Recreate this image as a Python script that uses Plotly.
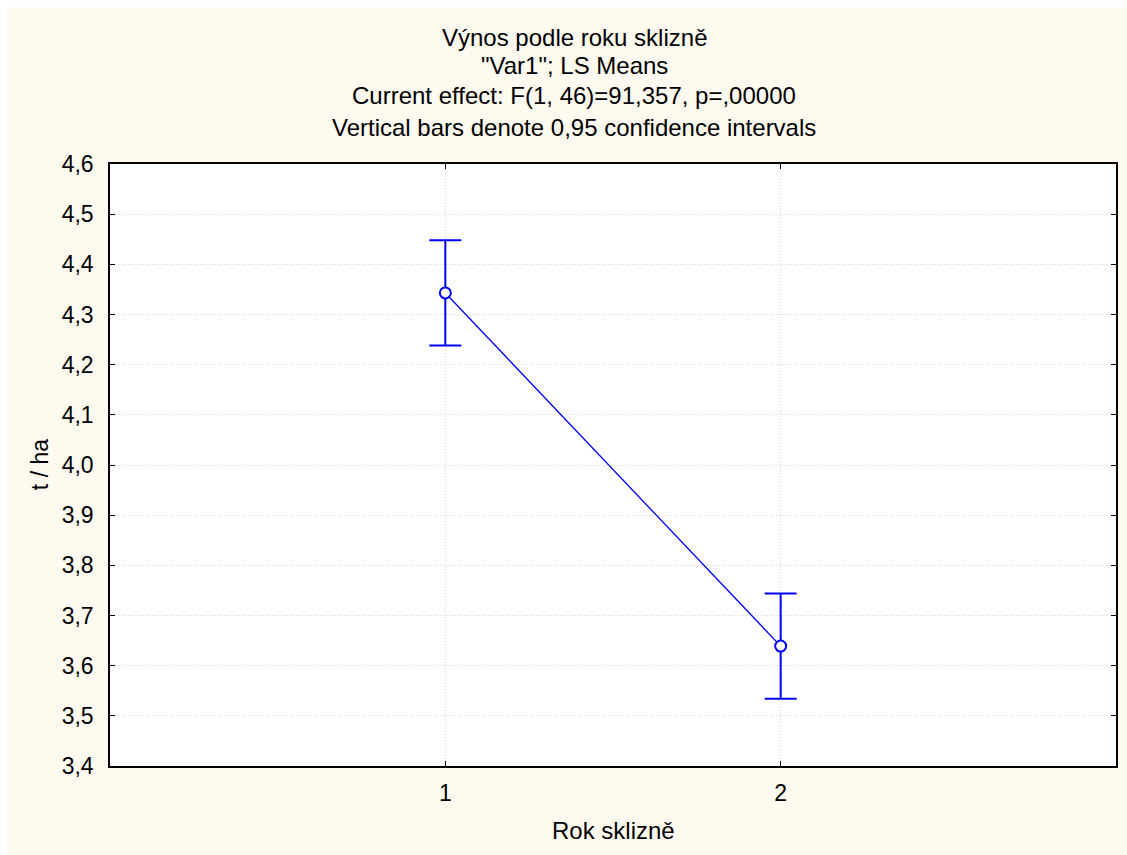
import plotly.graph_objects as go

# Harvest-year LS means with 0.95 confidence half-widths
years = ["1", "2"]
means = [4.343, 3.639]
ci_half = [0.105, 0.105]

title_lines = [
    "Výnos podle roku sklizně",
    "\"Var1\"; LS Means",
    "Current effect: F(1, 46)=91,357, p=,00000",
    "Vertical bars denote 0,95 confidence intervals",
]
x_title = "Rok sklizně"
y_title = "t / ha"

W, H = 1127, 855
L, R, T, B = 110, 9, 164, 89
pw, ph = W - L - R, H - T - B

def px_x(x):
    return (x - L) / pw

def px_y(y):
    return (H - B - y) / ph

FONT = "Liberation Sans, Arial, sans-serif"
BLUE = "#0000FF"
CREAM = "#FFFAF0"
GRID = "#d8d8d8"

fig = go.Figure()
fig.add_trace(go.Scatter(
    x=years, y=means,
    mode="lines+markers",
    line=dict(color=BLUE, width=1.3),
    marker=dict(symbol="circle", size=11, color="white",
                line=dict(color=BLUE, width=2)),
    error_y=dict(type="data", array=ci_half, symmetric=True,
                 color=BLUE, thickness=2, width=16),
    showlegend=False,
))

annotations = []
title_y = [37, 65, 96, 127]
for text, yp in zip(title_lines, title_y):
    annotations.append(dict(
        text=text, x=px_x(575), y=px_y(yp), xref="paper", yref="paper",
        xanchor="center", yanchor="middle", showarrow=False,
        font=dict(family=FONT, size=24, color="black"),
    ))
annotations.append(dict(
    text=x_title, x=0.5, y=px_y(830), xref="paper", yref="paper",
    xanchor="center", yanchor="middle", showarrow=False,
    font=dict(family=FONT, size=24, color="black"),
))
annotations.append(dict(
    text=y_title, x=px_x(40), y=0.5, xref="paper", yref="paper",
    xanchor="center", yanchor="middle", showarrow=False, textangle=-90,
    font=dict(family=FONT, size=23, color="black"),
))

# thin white strip along the top and left edges of the page
shapes = [
    dict(type="rect", xref="paper", yref="paper", layer="above",
         x0=px_x(0), x1=px_x(W), y0=px_y(7), y1=px_y(0),
         fillcolor="white", line=dict(width=0)),
    dict(type="rect", xref="paper", yref="paper", layer="above",
         x0=px_x(0), x1=px_x(7), y0=px_y(H), y1=px_y(0),
         fillcolor="white", line=dict(width=0)),
]

axis_common = dict(
    showline=True, linecolor="black", linewidth=1.5, mirror="ticks",
    ticks="inside", ticklen=5, tickcolor="black", tickwidth=1,
    showgrid=True, gridcolor=GRID, griddash="1px,2px", gridwidth=1,
    zeroline=False,
    tickfont=dict(family=FONT, size=23),
)

fig.update_layout(
    width=W, height=H,
    margin=dict(l=L, r=R, t=T, b=B, pad=0),
    paper_bgcolor=CREAM,
    plot_bgcolor="white",
    separators=", ",
    font=dict(family=FONT, size=23, color="black"),
    annotations=annotations,
    shapes=shapes,
    xaxis=dict(type="category", range=[-1, 2], ticklabelstandoff=6,
               **axis_common),
    yaxis=dict(range=[3.4, 4.6], tick0=3.4, dtick=0.1, tickformat=".1f",
               ticklabelstandoff=10, **axis_common),
)

fig.write_html("out.html")
